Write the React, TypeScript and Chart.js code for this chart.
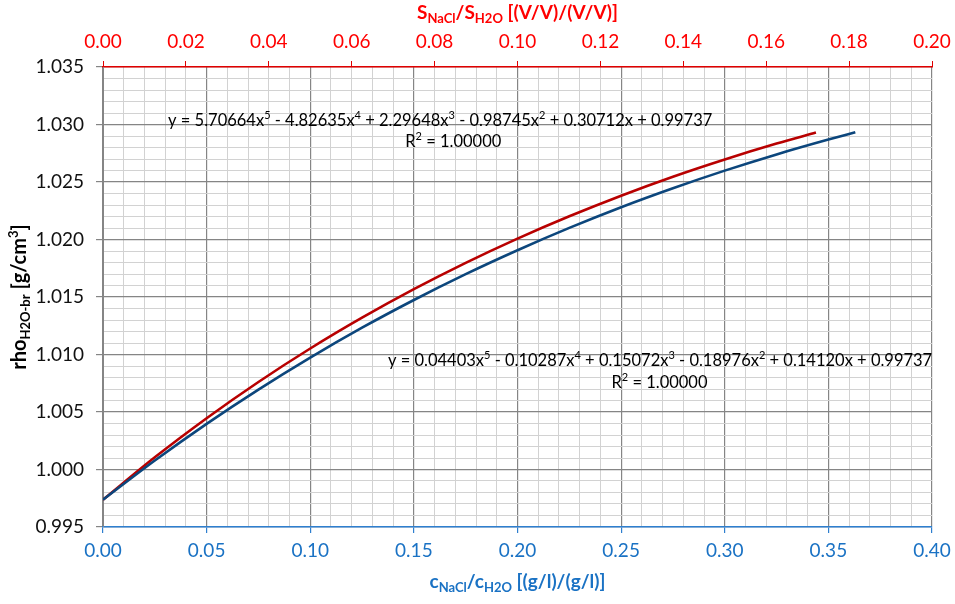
import React, { useEffect, useRef } from "react";
import { Chart, registerables } from "chart.js";

Chart.register(...registerables);

// Brine density vs. mass concentration ratio (bottom axis, blue)
const massRatio = [0, 0.025, 0.05, 0.075, 0.1, 0.125, 0.15, 0.175, 0.2, 0.225, 0.25, 0.275, 0.3, 0.325, 0.35, 0.363];
const rhoByMass = [0.99737, 1.00078, 1.00397, 1.00695, 1.00973, 1.01233, 1.01474, 1.01699, 1.01907, 1.02101, 1.02281, 1.02446, 1.02599, 1.0274, 1.02869, 1.02932];

// Brine density vs. volume ratio (top axis, red)
const volRatio = [0, 0.0125, 0.025, 0.0375, 0.05, 0.0625, 0.075, 0.0875, 0.1, 0.1125, 0.125, 0.1375, 0.15, 0.1625, 0.172];
const rhoByVol = [0.99737, 1.00106, 1.00446, 1.00761, 1.01052, 1.0132, 1.01568, 1.01797, 1.02008, 1.02202, 1.02381, 1.02546, 1.02696, 1.02834, 1.0293];

// Axis ranges
const bottomRange = [0, 0.4];
const topRange = [0, 0.2];
const yRange = [0.995, 1.035];

const eqVol = "y = 5.70664x5 - 4.82635x4 + 2.29648x3 - 0.98745x2 + 0.30712x + 0.99737";
const eqMass = "y = 0.04403x5 - 0.10287x4 + 0.15072x3 - 0.18976x2 + 0.14120x + 0.99737";
const r2Text = "R2 = 1.00000";

type Seg = { t: string; s?: "sub" | "sup" };

function eqSegs(eq: string): Seg[] {
  const segs: Seg[] = [];
  let buf = "";
  for (let i = 0; i < eq.length; i++) {
    const c = eq[i];
    if (/[0-9]/.test(c) && i > 0 && (eq[i - 1] === "x" || eq[i - 1] === "R")) {
      if (buf) segs.push({ t: buf });
      buf = "";
      segs.push({ t: c, s: "sup" });
    } else buf += c;
  }
  if (buf) segs.push({ t: buf });
  return segs;
}

const FONT = "Lato, 'DejaVu Sans', sans-serif";

function fontStr(size: number, bold: boolean) {
  return `${bold ? "bold " : ""}${size}px ${FONT}`;
}

function segSize(s: Seg, size: number) {
  return s.s ? Math.round(size * 0.66) : size;
}

function measureRich(ctx: CanvasRenderingContext2D, segs: Seg[], size: number, bold: boolean) {
  let w = 0;
  for (const s of segs) {
    ctx.font = fontStr(segSize(s, size), bold);
    w += ctx.measureText(s.t).width;
  }
  return w;
}

function drawRich(
  ctx: CanvasRenderingContext2D,
  segs: Seg[],
  x: number,
  y: number,
  size: number,
  bold: boolean,
  color: string,
  align: "left" | "center"
) {
  const w = measureRich(ctx, segs, size, bold);
  let cx = align === "center" ? x - w / 2 : x;
  ctx.fillStyle = color;
  ctx.textBaseline = "middle";
  ctx.textAlign = "left";
  for (const s of segs) {
    const sz = segSize(s, size);
    ctx.font = fontStr(sz, bold);
    let dy = 0;
    if (s.s === "sub") dy = size * 0.28;
    if (s.s === "sup") dy = -size * 0.32;
    ctx.fillText(s.t, cx, y + dy);
    cx += ctx.measureText(s.t).width;
  }
}

const titlesPlugin = {
  id: "richTitles",
  afterDraw(chart: any) {
    const ctx: CanvasRenderingContext2D = chart.ctx;
    const area = chart.chartArea;
    const cx = (area.left + area.right) / 2;
    ctx.save();
    drawRich(
      ctx,
      [{ t: "S" }, { t: "NaCl", s: "sub" }, { t: "/S" }, { t: "H2O", s: "sub" }, { t: " [(V/V)/(V/V)]" }],
      cx, 13, 19, true, "#ff0000", "center"
    );
    drawRich(
      ctx,
      [{ t: "c" }, { t: "NaCl", s: "sub" }, { t: "/c" }, { t: "H2O", s: "sub" }, { t: " [(g/l)/(g/l)]" }],
      cx, 582, 19, true, "#1a72c4", "center"
    );
    ctx.save();
    ctx.translate(20, (area.top + area.bottom) / 2);
    ctx.rotate(-Math.PI / 2);
    drawRich(
      ctx,
      [{ t: "rho" }, { t: "H2O-br", s: "sub" }, { t: " [g/cm" }, { t: "3", s: "sup" }, { t: "]" }],
      0, 0, 20, true, "#000000", "center"
    );
    ctx.restore();

    const xs = chart.scales.x;
    const ys = chart.scales.y;
    drawRich(ctx, eqSegs(eqVol), xs.getPixelForValue(0.0314), ys.getPixelForValue(1.0303), 16.5, false, "#000", "left");
    drawRich(ctx, eqSegs(r2Text), xs.getPixelForValue(0.169), ys.getPixelForValue(1.02848), 16.5, false, "#000", "center");
    drawRich(ctx, eqSegs(eqMass), xs.getPixelForValue(0.1375), ys.getPixelForValue(1.00947), 16.5, false, "#000", "left");
    drawRich(ctx, eqSegs(r2Text), xs.getPixelForValue(0.2685), ys.getPixelForValue(1.00752), 16.5, false, "#000", "center");
    ctx.restore();
  },
};

function isMult(v: number, step: number) {
  const r = v / step;
  return Math.abs(r - Math.round(r)) < 1e-6;
}

export default function App() {
  const ref = useRef<HTMLCanvasElement>(null);
  useEffect(() => {
    document.body.style.margin = "0";
    Chart.defaults.font.family = FONT;
    const canvas = ref.current!;
    const chart = new Chart(canvas, {
      type: "line",
      data: {
        datasets: [
          {
            label: "rho vs c",
            data: massRatio.map((x, i) => ({ x, y: rhoByMass[i] })),
            xAxisID: "x",
            yAxisID: "y",
            borderColor: "#0c467c",
            borderWidth: 2.6,
            pointRadius: 0,
            cubicInterpolationMode: "monotone",
            fill: false,
          },
          {
            label: "rho vs S",
            data: volRatio.map((x, i) => ({ x, y: rhoByVol[i] })),
            xAxisID: "xTop",
            yAxisID: "y",
            borderColor: "#b80000",
            borderWidth: 2.6,
            pointRadius: 0,
            cubicInterpolationMode: "monotone",
            fill: false,
          },
        ],
      },
      options: {
        responsive: false,
        animation: false,
        layout: { padding: { left: 0, right: 23, top: 0, bottom: 0 } },
        plugins: { legend: { display: false }, tooltip: { enabled: false }, title: { display: false } },
        scales: {
          x: {
            type: "linear",
            position: "bottom",
            min: bottomRange[0],
            max: bottomRange[1],
            afterFit: (s: any) => { s.height = 77; s.paddingLeft = 0; s.paddingRight = 0; },
            border: { color: "#2e7fcf", width: 1.5 },
            grid: {
              color: (c: any) => (isMult(c.tick.value, 0.05) ? "#858585" : "#d2d2d2"),
              lineWidth: (c: any) => (isMult(c.tick.value, 0.05) ? 1.2 : 1),
              tickLength: 6,
              tickColor: (c: any) => (isMult(c.tick.value, 0.05) ? "#2e7fcf" : "rgba(0,0,0,0)"),
            },
            ticks: {
              stepSize: 0.01,
              autoSkip: false,
              maxRotation: 0,
              padding: 6,
              color: "#1a72c4",
              font: { size: 19 },
              callback: (v: any) => (isMult(Number(v), 0.05) ? Number(v).toFixed(2) : ""),
            },
          },
          xTop: {
            type: "linear",
            position: "top",
            min: topRange[0],
            max: topRange[1],
            afterFit: (s: any) => { s.height = 67; s.paddingLeft = 0; s.paddingRight = 0; },
            border: { color: "#e00000", width: 1.5 },
            grid: { drawOnChartArea: false, tickLength: 6, tickColor: "#e00000" },
            ticks: {
              stepSize: 0.02,
              autoSkip: false,
              maxRotation: 0,
              padding: 8,
              color: "#ff0000",
              font: { size: 19 },
              callback: (v: any) => Number(v).toFixed(2),
            },
          },
          y: {
            type: "linear",
            min: yRange[0],
            max: yRange[1],
            afterFit: (s: any) => { s.width = 103; s.paddingTop = 0; s.paddingBottom = 0; },
            border: { color: "#858585", width: 1 },
            grid: {
              color: (c: any) => (isMult(c.tick.value - 0.995, 0.005) ? "#858585" : "#d2d2d2"),
              lineWidth: (c: any) => (isMult(c.tick.value - 0.995, 0.005) ? 1.2 : 1),
              tickLength: 7,
              tickColor: (c: any) => (isMult(c.tick.value - 0.995, 0.005) ? "#858585" : "rgba(0,0,0,0)"),
            },
            ticks: {
              stepSize: 0.001,
              autoSkip: false,
              padding: 12,
              color: "#111",
              font: { size: 19 },
              callback: (v: any) => (isMult(Number(v) - 0.995, 0.005) ? Number(v).toFixed(3) : ""),
            },
          },
        },
      },
      plugins: [titlesPlugin],
    } as any);
    return () => chart.destroy();
  }, []);
  return <canvas ref={ref} width={955} height={604} style={{ display: "block" }} />;
}
